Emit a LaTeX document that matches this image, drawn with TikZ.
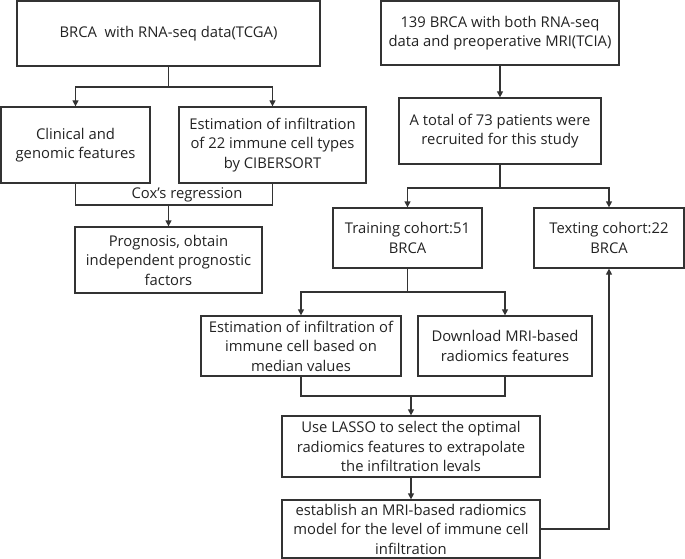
\documentclass[tikz,border=0pt]{standalone}
\usepackage{fontspec}
\setmainfont{Open Sans}
\usetikzlibrary{arrows.meta}
\definecolor{ln}{HTML}{333333}
\definecolor{tx}{HTML}{222222}
\tikzset{
  box/.style={draw=ln, line width=1.3pt, align=center, inner sep=0pt, text=tx, font=\fontsize{14.8}{19.5}\selectfont},
  arr/.style={draw=ln, line width=1.3pt, -{Triangle[length=6pt,width=6pt]}},
  ln/.style={draw=ln, line width=1.3pt}
}
\begin{document}
\begin{tikzpicture}[x=1pt,y=-1pt]
\useasboundingbox (0,0) rectangle (685,559);
\node[box, minimum width=303pt, minimum height=65pt] (b1) at (168.5,33.5) {BRCA\ \ with RNA-seq data(TCGA)};
\node[box, minimum width=149pt, minimum height=76pt] (clin) at (75.5,145) {Clinical and\\genomic features};
\node[box, minimum width=187pt, minimum height=76pt] (est) at (272.5,145) {Estimation of infiltration\\of 22 immune cell types\\by CIBERSORT};
\node[box, minimum width=187pt, minimum height=66pt] (prog) at (168.5,260) {Prognosis, obtain\\independent prognostic\\factors};
\node[box, minimum width=238pt, minimum height=64pt] (b139) at (500,33) {139 BRCA with both RNA-seq\\data and preoperative MRI(TCIA)};
\node[box, minimum width=202pt, minimum height=66pt] (b73) at (500,131) {A total of 73 patients were\\recruited for this study};
\node[box, minimum width=149pt, minimum height=60pt] (train) at (407.5,238) {Training cohort:51\\BRCA};
\node[box, minimum width=150pt, minimum height=60pt] (test) at (609,238) {Texting cohort:22\\BRCA};
\node[box, minimum width=200pt, minimum height=60pt] (estm) at (301,346) {Estimation of infiltration of\\immune cell based on\\median values};
\node[box, minimum width=174pt, minimum height=60pt] (dl) at (505,346) {Download MRI-based\\radiomics features};
\node[box, minimum width=258pt, minimum height=61pt] (lasso) at (411,446.5) {Use LASSO to select the optimal\\radiomics features to extrapolate\\the infiltration levals};
\node[box, minimum width=258pt, minimum height=58pt] (est2) at (411,529) {establish an MRI-based radiomics\\model for the level of immune cell\\infiltration};
\coordinate (j1) at (168.5,87);
\coordinate (j2) at (168.5,205);
\coordinate (j3) at (500,188);
\coordinate (j4) at (407.5,292);
\coordinate (j5) at (411,396);
\draw[ln] (b1.south) -- (j1);
\draw[arr] (j1) -| (clin.north);
\draw[arr] (j1) -| (est.north);
\draw[ln] (clin.south) |- (j2) -| (est.south);
\node[text=tx, font=\fontsize{14.8}{16}\selectfont, inner sep=1pt] (cox) at (187,195) {Cox's regression};
\draw[arr] (j2) -- (prog.north);
\draw[arr] (b139.south) -- (b73.north);
\draw[ln] (b73.south) -- (j3);
\draw[arr] (j3) -| (train.north);
\draw[arr] (j3) -| (test.north);
\draw[ln] (train.south) -- (j4);
\draw[arr] (j4) -| (estm.north);
\draw[arr] (j4) -| (dl.north);
\draw[ln] (estm.south) |- (j5) -| (dl.south);
\draw[arr] (j5) -- (lasso.north);
\draw[arr] (lasso.south) -- (est2.north);
\draw[arr] (est2.east) -| (test.south);
\end{tikzpicture}
\end{document}
